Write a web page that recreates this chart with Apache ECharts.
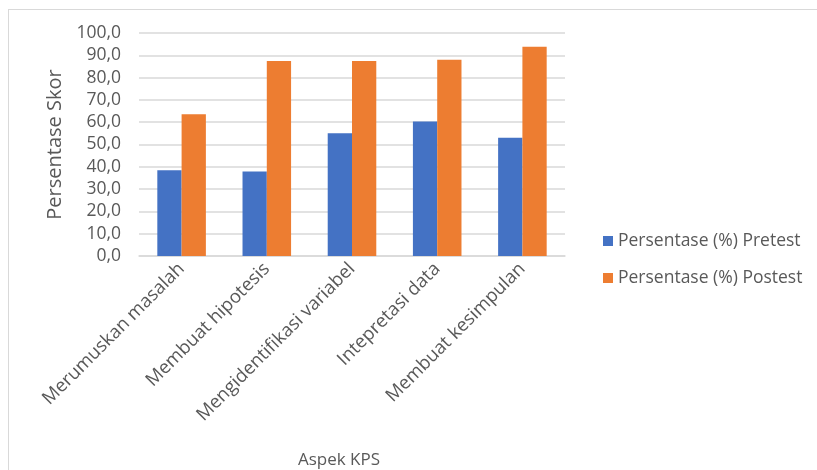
<!DOCTYPE html>
<html><head><meta charset="utf-8">
<script src="https://cdn.jsdelivr.net/npm/echarts@6/dist/echarts.min.js"></script>
<style>
html,body{margin:0;padding:0;background:#fff;}
#frame{position:absolute;left:8px;top:9px;width:830px;height:480px;border:1px solid #d9d9d9;box-sizing:border-box;}
#c{position:absolute;left:0;top:0;width:817px;height:470px;}
</style></head>
<body><div id="frame"></div><div id="c"></div>
<script>
var categories = ['Merumuskan masalah','Membuat hipotesis','Mengidentifikasi variabel','Intepretasi data','Membuat kesimpulan'];
var pretest = [38.4, 37.9, 55.1, 60.3, 53.0];
var postest = [63.6, 87.4, 87.4, 88.0, 93.8];
var seriesNames = ['Persentase (%) Pretest','Persentase (%) Postest'];
var FONT = 'Open Sans';
var chart = echarts.init(document.getElementById('c'));
chart.setOption({
  animation:false,
  textStyle:{fontFamily:FONT},
  grid:{left:139,right:252,top:33,bottom:212,containLabel:false},
  legend:{
    orient:'vertical', left:598, top:227, itemGap:19,
    itemWidth:10, itemHeight:10, icon:'rect',
    textStyle:{color:'#595959',fontSize:17.5,lineHeight:18,fontFamily:FONT},
    data:seriesNames
  },
  xAxis:{
    type:'category', data:categories,
    name:'Aspek KPS', nameLocation:'middle', nameGap:196,
    nameTextStyle:{color:'#595959',fontSize:17,fontFamily:FONT,padding:[0,26,0,0]},
    axisLine:{lineStyle:{color:'#d9d9d9',width:1.5}},
    axisTick:{show:false},
    axisLabel:{rotate:45,color:'#595959',fontSize:18.5,fontFamily:FONT,interval:0,margin:10}
  },
  yAxis:{
    type:'value', min:0, max:100, interval:10,
    name:'Persentase Skor', nameLocation:'middle', nameGap:73,
    nameTextStyle:{color:'#595959',fontSize:20,fontFamily:FONT},
    axisLine:{show:false}, axisTick:{show:false},
    axisLabel:{color:'#595959',fontSize:17.5,fontFamily:FONT,margin:18,
      formatter:function(v){return v.toFixed(1).replace('.',',');}},
    splitLine:{lineStyle:{color:'#d9d9d9',width:1.5}}
  },
  series:[
    {name:seriesNames[0],type:'bar',data:pretest,barGap:'0%',barCategoryGap:'43%',itemStyle:{color:'#4472c4'}},
    {name:seriesNames[1],type:'bar',data:postest,barGap:'0%',barCategoryGap:'43%',itemStyle:{color:'#ed7d31'}}
  ]
});
</script></body></html>
